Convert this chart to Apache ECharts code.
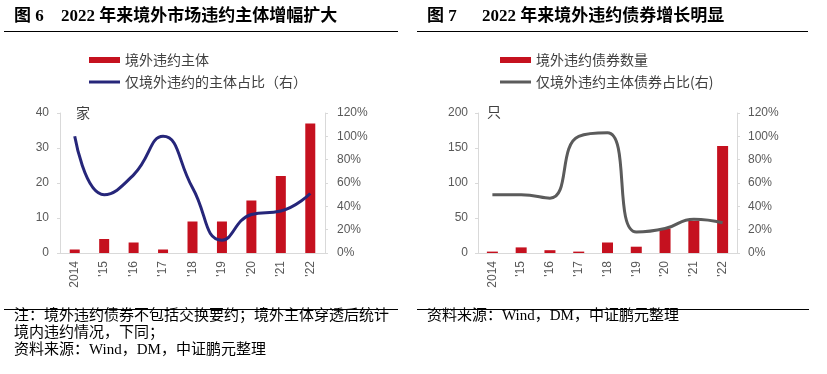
<!DOCTYPE html>
<html>
<head>
<meta charset="utf-8">
<script src="https://cdn.jsdelivr.net/npm/echarts@6/dist/echarts.min.js"></script>
<style>
html,body{margin:0;padding:0;background:#fff;}
#c{width:827px;height:374px;}
</style>
</head>
<body>
<div id="c"></div>
<script>
const categories = ['2014', "'15", "'16", "'17", "'18", "'19", "'20", "'21", "'22"];
const issuerCount = [1, 4, 3, 1, 9, 9, 15, 22, 37];
const issuerOffshoreOnlyShare = [100, 50, 67, 100, 56, 11, 33, 36, 51];
const bondCount = [2, 8, 4, 2, 15, 9, 35, 46, 153];
const bondOffshoreOnlyShare = [50, 50, 47, 100, 103, 18, 21, 29, 26];
const leftCountTicks = {min: 0, max: 40, interval: 10};
const rightCountTicks = {min: 0, max: 200, interval: 50};
const shareTicks = {min: 0, max: 120, interval: 20};

const seriesNames = ['境外违约主体', '仅境外违约的主体占比（右）', '境外违约债券数量', '仅境外违约主体债券占比(右)'];

const RED = '#C5111F', NAVY = '#26267A', GREY = '#5B5B5B', AXIS = '#D9D9D9', LABEL = '#595959';
const CJK = "'Noto Sans CJK SC'";
const SERIF = "'Liberation Serif', 'Noto Sans CJK SC'";
const SANS = "'Liberation Sans', Arial, 'Noto Sans CJK SC'";

function yAx(gridIndex, ticks, pos, fmt, margin) {
  return {
    type: 'value', gridIndex, position: pos,
    min: ticks.min, max: ticks.max, interval: ticks.interval,
    axisLine: {show: true, lineStyle: {color: AXIS, width: 1}},
    axisTick: {show: true, length: 3, lineStyle: {color: AXIS}},
    splitLine: {show: false},
    axisLabel: {color: LABEL, fontSize: 12, fontFamily: SANS, margin, formatter: fmt}
  };
}
function xAx(gridIndex) {
  return {
    type: 'category', gridIndex, data: categories,
    axisLine: {show: true, lineStyle: {color: AXIS, width: 1}},
    axisTick: {show: false},
    axisLabel: {color: LABEL, fontSize: 12, fontFamily: SANS, rotate: 90, margin: 8, interval: 0}
  };
}
function legend(left, names, lineColor) {
  return {
    orient: 'vertical', left, top: 47, itemWidth: 31, itemHeight: 6, itemGap: 6,
    symbolKeepAspect: true,
    textStyle: {fontSize: 14, color: '#404040', fontFamily: CJK, lineHeight: 16},
    data: [
      {name: names[0], icon: 'rect'},
      {name: names[1], icon: 'path://M0,0H31V3H0Z', itemStyle: {color: lineColor}}
    ]
  };
}
function txt(x, y, text, font, fill, align) {
  return {type: 'text', x, y, silent: true,
    style: {text, font, fill: fill || '#000', align: align || 'left', verticalAlign: 'middle'}};
}
function hline(x1, x2, y) {
  return {type: 'line', silent: true, shape: {x1, y1: y, x2, y2: y}, style: {stroke: '#000', lineWidth: 1}};
}

const chart = echarts.init(document.getElementById('c'), null, {renderer: 'canvas'});
chart.setOption({
  animation: false,
  backgroundColor: '#fff',
  grid: [
    {left: 60, right: 502, top: 113, height: 140},
    {left: 478, right: 90, top: 113, height: 140}
  ],
  xAxis: [xAx(0), xAx(1)],
  yAxis: [
    yAx(0, leftCountTicks, 'left', '{value}', 11),
    yAx(0, shareTicks, 'right', '{value}%', 12),
    yAx(1, rightCountTicks, 'left', '{value}', 10),
    yAx(1, shareTicks, 'right', '{value}%', 11)
  ],
  legend: [legend(84, seriesNames.slice(0, 2), NAVY), legend(495, seriesNames.slice(2, 4), GREY)],
  series: [
    {name: seriesNames[0], type: 'bar', xAxisIndex: 0, yAxisIndex: 0, data: issuerCount,
      barWidth: 10, itemStyle: {color: RED}},
    {name: seriesNames[1], type: 'line', xAxisIndex: 0, yAxisIndex: 1, data: issuerOffshoreOnlyShare,
      smooth: 0.5, symbol: 'none', lineStyle: {color: NAVY, width: 3}, itemStyle: {color: NAVY}},
    {name: seriesNames[2], type: 'bar', xAxisIndex: 1, yAxisIndex: 2, data: bondCount,
      barWidth: 11, itemStyle: {color: RED}},
    {name: seriesNames[3], type: 'line', xAxisIndex: 1, yAxisIndex: 3, data: bondOffshoreOnlyShare,
      smooth: 0.5, symbol: 'none', lineStyle: {color: GREY, width: 3}, itemStyle: {color: GREY}}
  ],
  graphic: [
    txt(14, 17, '图 6', 'bold 17px ' + SERIF),
    txt(61, 17, '2022 年来境外市场违约主体增幅扩大', 'bold 17px ' + SERIF),
    hline(4, 398, 31.5),
    txt(427, 17, '图 7', 'bold 17px ' + SERIF),
    txt(482, 17, '2022 年来境外违约债券增长明显', 'bold 17px ' + SERIF),
    hline(417, 808, 31.5),
    txt(76, 113, '家', '14px ' + CJK, '#404040'),
    txt(487, 112, '只', '14px ' + CJK, '#404040'),
    hline(4, 398, 309.5),
    hline(417, 809, 309.5),
    txt(14, 316, '注：境外违约债券不包括交换要约；境外主体穿透后统计', '15px ' + SERIF),
    txt(14, 333, '境内违约情况，下同；', '15px ' + SERIF),
    txt(14, 350, '资料来源：Wind，DM，中证鹏元整理', '15px ' + SERIF),
    txt(427, 316, '资料来源：Wind，DM，中证鹏元整理', '15px ' + SERIF)
  ]
});
</script>
</body>
</html>
